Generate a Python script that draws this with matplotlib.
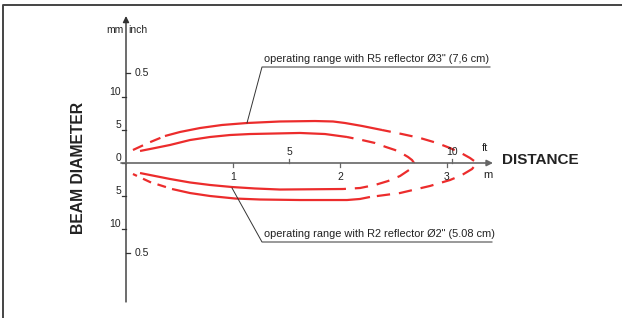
import matplotlib.pyplot as plt
import numpy as np

plt.rcParams['font.family'] = ['Liberation Sans', 'DejaVu Sans']

# ---------------------------
# data: distance in m, beam diameter in mm
m_ticks = [1, 2, 3]
ft_ticks = [5, 10]
mm_ticks = [5, 10]
inch_label = "0.5"
inch_pos_mm = 13.6   # where the 0.5 inch mark sits on the drawing

# R5 reflector (outer envelope)
r5_up_x = [0.364, 0.505, 0.692, 0.897, 1.131, 1.439, 1.766, 1.935, 2.047, 2.206, 2.393]
r5_up_y = [4.09, 4.70, 5.30, 5.76, 6.06, 6.29, 6.36, 6.29, 6.06, 5.61, 5.00]
r5_lo_x = [0.430, 0.598, 0.785, 1.019, 1.252, 1.626, 2.065, 2.187, 2.280]
r5_lo_y = [-3.94, -4.55, -5.00, -5.38, -5.53, -5.61, -5.61, -5.45, -5.15]
r5_left_up_x = [0.065, 0.206, 0.364]
r5_left_up_y = [1.97, 3.03, 4.09]
r5_left_lo_x = [0.065, 0.224, 0.430]
r5_left_lo_y = [-1.67, -2.88, -3.94]
r5_tip_x = [2.393, 2.579, 2.748, 2.907, 3.028, 3.131, 3.215, 3.280,
            3.234, 3.140, 3.028, 2.841, 2.561, 2.280]
r5_tip_y = [5.00, 4.39, 3.79, 3.03, 2.27, 1.52, 0.76, 0.00,
            -0.91, -1.82, -2.58, -3.48, -4.55, -5.15]

# R2 reflector (inner envelope)
r2_up_x = [0.131, 0.271, 0.411, 0.598, 0.785, 0.972, 1.159, 1.626, 1.860, 2.065]
r2_up_y = [1.82, 2.27, 2.73, 3.48, 3.94, 4.24, 4.39, 4.55, 4.39, 3.94]
r2_lo_x = [0.131, 0.271, 0.411, 0.598, 0.785, 0.991, 1.206, 1.439, 2.028]
r2_lo_y = [-1.52, -1.97, -2.42, -2.95, -3.33, -3.64, -3.86, -4.02, -3.94]
r2_tip_x = [2.065, 2.206, 2.327, 2.430, 2.514, 2.589, 2.636, 2.673, 2.692,
            2.682, 2.645, 2.561, 2.449, 2.327, 2.187, 2.028]
r2_tip_y = [3.94, 3.48, 3.03, 2.42, 1.97, 1.36, 0.91, 0.45, 0.00,
            -0.45, -1.06, -1.97, -2.73, -3.33, -3.79, -3.94]

# ---------------------------
# pixel -> data mapping: origin at (126, 163) px, 107 px per m, 6.6 px per mm
W, H = 622, 318
ox, oy, sx, sy = 126, 163, 107.0, 6.6

fig = plt.figure(figsize=(W / 100, H / 100), dpi=100)
ax = fig.add_axes([0, 0, 1, 1])
ax.set_xlim(-ox / sx, (W - ox) / sx)
ax.set_ylim(-(H - oy) / sy, oy / sy)
ax.axis('off')

def px(x, y):
    return (x - ox) / sx, (oy - y) / sy

red = '#ec2c2c'
lw = 1.6
solid = dict(color=red, lw=lw, solid_capstyle='butt', solid_joinstyle='round')
dashed = dict(color=red, lw=lw, dash_capstyle='butt', dash_joinstyle='round')

ax.plot(r5_up_x, r5_up_y, **solid)
ax.plot(r5_lo_x, r5_lo_y, **solid)
ax.plot(r5_left_up_x, r5_left_up_y, ls=(0, (5, 3.5)), **dashed)
ax.plot(r5_left_lo_x, r5_left_lo_y, ls=(2, (4, 3)), **dashed)
ax.plot(r5_tip_x, r5_tip_y, ls=(2, (6, 4)), **dashed)
ax.plot(r2_up_x, r2_up_y, **solid)
ax.plot(r2_lo_x, r2_lo_y, **solid)
ax.plot(r2_tip_x, r2_tip_y, ls=(3, (6, 4)), **dashed)

# axes drawn by hand
axc = '#333333'
ax.annotate('', xy=px(126, 16), xytext=px(126, 302),
            arrowprops=dict(arrowstyle='-|>', color=axc, lw=1.0,
                            mutation_scale=9, shrinkA=0, shrinkB=0))
ax.annotate('', xy=px(493, 163), xytext=px(121, 163),
            arrowprops=dict(arrowstyle='-|>', color='#666666', lw=1.2,
                            mutation_scale=9, shrinkA=0, shrinkB=0))

fs = 7.5
tk = 4 / sx
tky = 4 / sy
for m in m_ticks:
    ax.plot([m, m], [0, -tky], color='#666666', lw=0.9)
    ax.text(m, -1.4, str(m), ha='center', va='top', fontsize=fs, color='#222222')
for f in ft_ticks:
    xm = f * 0.3048
    ax.plot([xm, xm], [0, tky], color='#666666', lw=0.9)
    ax.text(xm, 0.9, str(f), ha='center', va='bottom', fontsize=fs, color='#222222')

for v in mm_ticks:
    for s in (1, -1):
        ax.plot([-tk, 0], [s * v, s * v], color=axc, lw=0.9)
        ax.text(-tk - 0.01, s * v, str(v), ha='right', va='bottom', fontsize=fs,
                color='#222222')
ax.plot([-tk, 0], [0, 0], color=axc, lw=0.9)
ax.text(-tk - 0.01, 0, '0', ha='right', va='bottom', fontsize=fs, color='#222222')
for s in (1, -1):
    ax.plot([0, tk], [s * inch_pos_mm, s * inch_pos_mm], color=axc, lw=0.9)
    ax.text(tk + 0.04, s * inch_pos_mm, inch_label, ha='left', va='center',
            fontsize=fs, color='#222222')

ax.text(*px(124, 30), 'mm', ha='right', va='center', fontsize=fs, color='#222222')
ax.text(*px(128, 30), 'inch', ha='left', va='center', fontsize=fs, color='#222222')
ax.text(*px(485, 148), 'ft', ha='center', va='center', fontsize=8, color='#222222')
ax.text(*px(488, 175), 'm', ha='center', va='center', fontsize=8, color='#222222')

ax.text(*px(502, 160), 'DISTANCE', ha='left', va='center', fontsize=11,
        fontweight='bold', color='#222222')
ax.text(*px(79, 168), 'BEAM DIAMETER', ha='center', va='center', fontsize=11.3,
        fontweight='bold', rotation=90, color='#222222')

# callouts
ax.text(*px(264, 64), 'operating range with R5 reflector Ø3" (7,6 cm)',
        ha='left', va='bottom', fontsize=7.9, color='#222222')
ax.plot(*zip(px(490, 67), px(262, 67), px(247, 123)), color='#333333', lw=0.7)
ax.text(*px(264, 239), 'operating range with R2 reflector Ø2" (5.08 cm)',
        ha='left', va='bottom', fontsize=7.9, color='#222222')
ax.plot(*zip(px(492, 242), px(262, 242), px(232, 188)), color='#333333', lw=0.7)

# frame (top and left only)
ax.plot(*zip(px(3, 318), px(3, 5), px(622, 5)), color='#444444', lw=1.4)

fig.savefig('out.png', dpi=100)
